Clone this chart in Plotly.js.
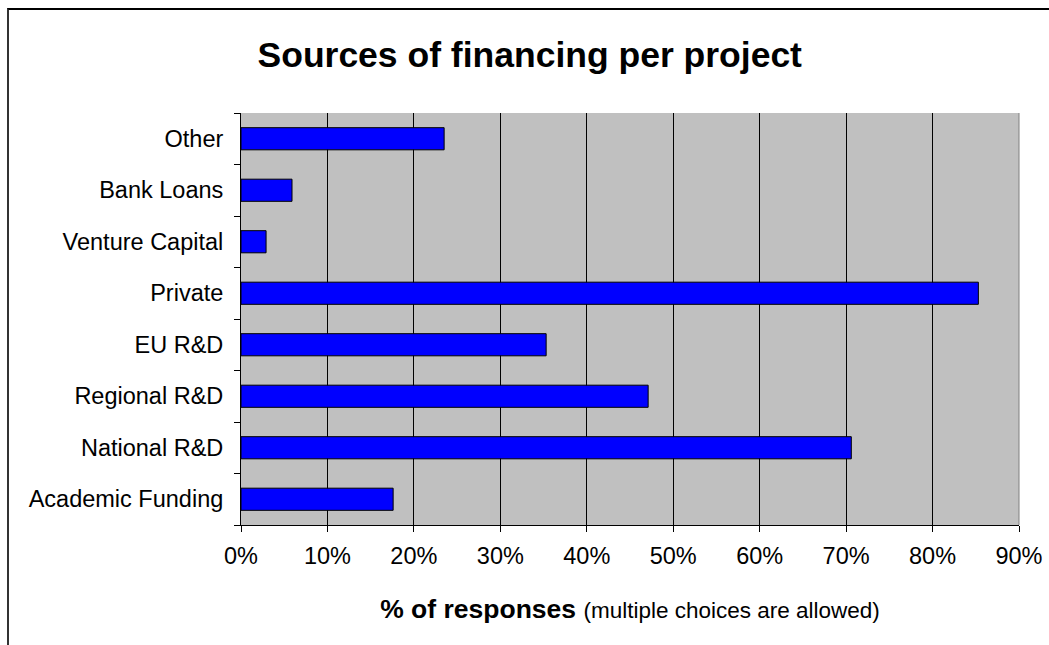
<!DOCTYPE html>
<html>
<head>
<meta charset="utf-8">
<script src="https://cdn.plot.ly/plotly-3.0.1.min.js"></script>
<style>
  html, body { margin: 0; padding: 0; background: #fff; overflow: hidden; }
  #chart { width: 1049px; height: 645px; position: absolute; left: 0; top: 0; }
  #frame { position: absolute; left: 7px; top: 8px; width: 1100px; height: 700px;
           border-left: 2px solid #333; border-top: 2px solid #000; pointer-events: none; }
</style>
</head>
<body>
<div id="chart"></div>
<div id="frame"></div>
<script>
// Categories listed bottom to top
const categories = ["Academic Funding", "National R&D", "Regional R&D", "EU R&D",
                    "Private", "Venture Capital", "Bank Loans", "Other"];
const percentResponses = [17.6, 70.6, 47.1, 35.3, 85.3, 2.9, 5.9, 23.5];
const xTickValues = [0, 10, 20, 30, 40, 50, 60, 70, 80, 90];
const chartTitle = "Sources of financing per project";
const axisTitleBold = "% of responses";
const axisTitleNote = "(multiple choices are allowed)";

const font = "Liberation Sans, Arial, sans-serif";

const trace = {
  type: "bar",
  orientation: "h",
  y: categories,
  x: percentResponses,
  marker: { color: "#0000FF", line: { color: "#000000", width: 1 } },
  hoverinfo: "none"
};

const layout = {
  width: 1049,
  height: 645,
  margin: { l: 241, r: 30, t: 113, b: 120 },
  paper_bgcolor: "#FFFFFF",
  plot_bgcolor: "#C0C0C0",
  showlegend: false,
  bargap: 0.57,
  font: { family: font, color: "#000", size: 23.5 },
  title: {
    text: "<b>" + chartTitle + "</b>",
    font: { family: font, size: 35.5, color: "#000" },
    xref: "container", x: 0.505, xanchor: "center",
    yref: "container", y: 0.915, yanchor: "middle"
  },
  xaxis: {
    range: [0, 90],
    tickvals: xTickValues,
    ticktext: xTickValues.map(v => v + "%"),
    showgrid: true,
    gridcolor: "#000000",
    gridwidth: 1,
    zeroline: false,
    showline: true,
    linecolor: "#000000",
    linewidth: 1,
    ticks: "outside",
    ticklen: 6,
    tickcolor: "#000",
    ticklabelstandoff: 4,
    tickfont: { family: font, size: 23.5, color: "#000" },
    fixedrange: true,
    title: {
      text: "<b>" + axisTitleBold + "</b> <span style=\"font-size:22.5px\">" + axisTitleNote + "</span>",
      font: { family: font, size: 26.5, color: "#000" },
      standoff: 31
    }
  },
  yaxis: {
    type: "category",
    categoryorder: "array",
    categoryarray: categories,
    showgrid: false,
    zeroline: false,
    showline: true,
    linecolor: "#000000",
    linewidth: 1,
    ticks: "outside",
    tickson: "boundaries",
    ticklen: 6,
    tickcolor: "#000",
    ticklabelstandoff: 12,
    tickfont: { family: font, size: 23.5, color: "#000" },
    fixedrange: true
  },
  shapes: [
    { type: "line", xref: "paper", yref: "paper", x0: 1, x1: 1, y0: 0, y1: 1,
      line: { color: "#808080", width: 1 } }
  ]
};

Plotly.newPlot("chart", [trace], layout, { displayModeBar: false, staticPlot: true });
</script>
</body>
</html>
